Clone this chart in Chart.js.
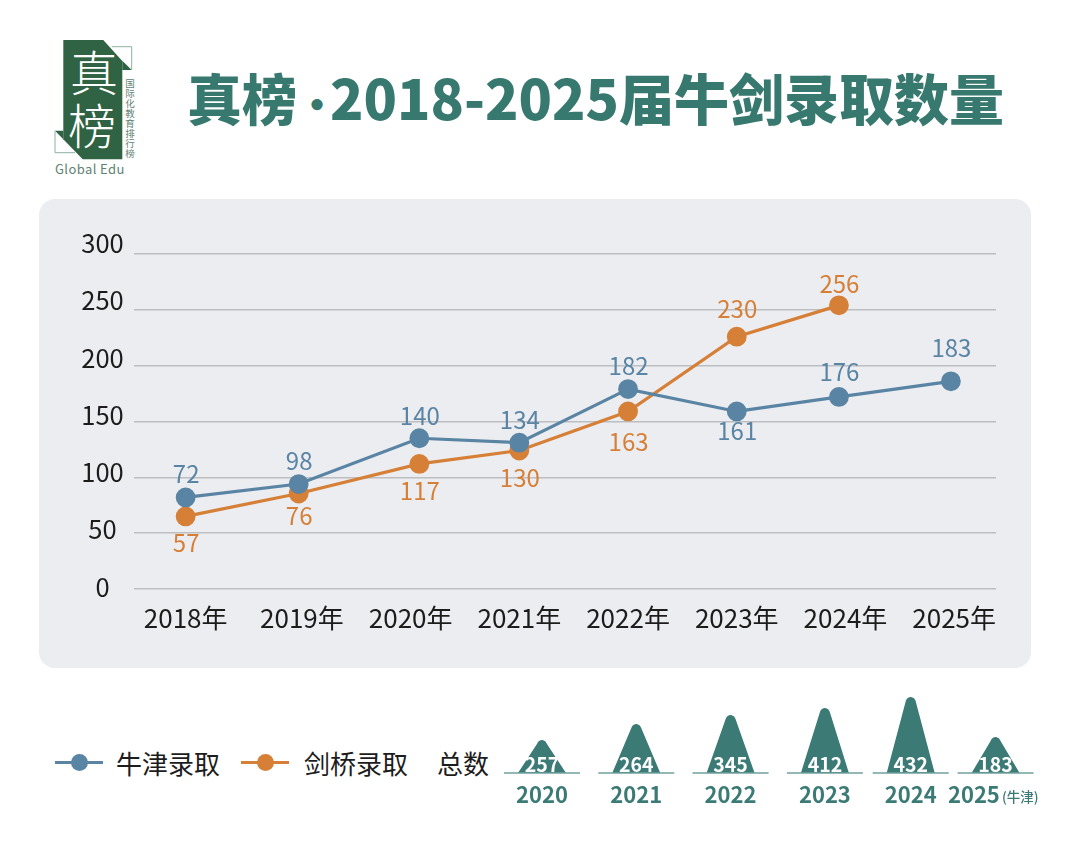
<!DOCTYPE html>
<html lang="zh-CN">
<head>
<meta charset="utf-8">
<title>真榜·2018-2025届牛剑录取数量</title>
<script src="https://cdn.jsdelivr.net/npm/chart.js@4/dist/chart.umd.min.js"></script>
<style>
    html, body { margin: 0; padding: 0; background: #fff; }
    body { position: relative; width: 1080px; height: 849px; overflow: hidden; font-family: "Noto Sans CJK SC", "Noto Sans", sans-serif; color: #1c1c1c; }
    #logo { position: absolute; left: 0; top: 0; }
    #title { position: absolute; left: 187px; top: 55px; font-size: 55px; line-height: 82px; font-weight: 900; color: #37786f; white-space: nowrap; }
    #title span { display: inline-block; width: 33px; text-align: center; font-size: 40px; line-height: 1; overflow: visible; }
    #panel { position: absolute; left: 39px; top: 199px; width: 992px; height: 469px; background: #ecedf1; border-radius: 16px; }
    #lineChart { position: absolute; left: 39px; top: 199px; }
    #totalsChart { position: absolute; left: 500px; top: 690px; }
    .legend-text { position: absolute; top: 744px; font-size: 26px; line-height: 38px; white-space: nowrap; }
    .legend-line { position: absolute; top: 761px; width: 48px; height: 3px; }
    .legend-dot { position: absolute; top: 754px; width: 17px; height: 17px; border-radius: 50%; }
</style>
</head>
<body>
<svg id="logo" width="180" height="190" xmlns="http://www.w3.org/2000/svg">
    <polygon points="63.3,40 103.3,40 122.3,61 122.3,159.3 82.7,159.3 63.3,139.3" fill="#2f6343"/>
    <polygon points="122.3,60.7 131.7,70 122.3,70" fill="#2f6343"/>
    <polygon points="55,130.7 63.3,130.7 63.3,139.3" fill="#2f6343"/>
    <polyline points="111.7,46.7 131.7,46.7 131.7,70" fill="none" stroke="#8fb0a0" stroke-width="1"/>
    <polyline points="55,130.7 55,152.7 75,152.7" fill="none" stroke="#8fb0a0" stroke-width="1"/>
    <text x="94" y="91" text-anchor="middle" font-size="48" font-weight="200" fill="#fff">真</text>
    <text x="92" y="144" text-anchor="middle" font-size="48" font-weight="200" fill="#fff">榜</text>
    <g font-size="9.5" fill="#5f8272" text-anchor="middle">
        <text x="130" y="87">国</text>
        <text x="130" y="97">际</text>
        <text x="130" y="107">化</text>
        <text x="130" y="117">教</text>
        <text x="130" y="127">育</text>
        <text x="130" y="137">排</text>
        <text x="130" y="147">行</text>
        <text x="130" y="157">榜</text>
    </g>
    <text x="55" y="174" font-size="13" letter-spacing="0.4" fill="#5f8272">Global Edu</text>
</svg>
<div id="title">真榜<span>·</span>2018-2025届牛剑录取数量</div>
<div id="panel"></div>
<canvas id="lineChart" width="992" height="469"></canvas>

<div class="legend-line" style="left:55px;background:#5a84a4"></div>
<div class="legend-dot" style="left:71px;background:#5a84a4"></div>
<div class="legend-text" style="left:116px">牛津录取</div>
<div class="legend-line" style="left:241px;background:#d67f37"></div>
<div class="legend-dot" style="left:257px;background:#d67f37"></div>
<div class="legend-text" style="left:304px">剑桥录取</div>
<div class="legend-text" style="left:437px">总数</div>

<canvas id="totalsChart" width="545" height="120"></canvas>

<script>
const yearLabels = ['2018年', '2019年', '2020年', '2021年', '2022年', '2023年', '2024年', '2025年'];
// the 2018 label sits a little left of its slot in the picture
const yearTicks = [2017.93, 2019, 2020, 2021, 2022, 2023, 2024, 2025];
const yTicks = [0, 50, 100, 150, 200, 250, 300];

// where the points are actually drawn differs from the printed numbers
const oxfordX = [2017.93, 2018.97, 2020.08, 2021.0, 2022, 2023, 2023.94, 2024.97];
const oxfordPlotted = [82, 94, 135, 131, 179, 159, 172, 186];
const oxfordPrinted = [72, 98, 140, 134, 182, 161, 176, 183];

const cambridgeX = [2017.93, 2018.97, 2020.08, 2021.0, 2022, 2023, 2023.94];
const cambridgePlotted = [65, 85.5, 112, 124, 159, 226, 254];
const cambridgePrinted = [57, 76, 117, 130, 163, 230, 256];

const totalYears = ['2020', '2021', '2022', '2023', '2024', '2025'];
const totalX = [2020, 2021, 2022, 2023, 2023.91, 2024.81];
const totalTickX = [2020, 2021, 2022, 2023, 2023.91, 2024.58];
const totalPrinted = [257, 264, 345, 412, 432, 183];
const totalPeaks = [33, 49, 58, 65, 76, 36];

const BLUE = '#5a84a4';
const ORANGE = '#d67f37';
const TEAL = '#3b7a75';
const FONT = '"Noto Sans CJK SC", "Noto Sans", sans-serif';

// label distance from the point, one per point
const oxfordOffsets = [-24, -23, -22, -23, -23, 19, -25, -33];
const cambridgeOffsets = [26, 22, 27, 27, 30, -28, -21];

function toPoints(xs, ys) {
    return ys.map((y, i) => ({ x: xs[i], y: y }));
}

const pointLabelsPlugin = {
    id: 'pointLabels',
    afterDatasetsDraw(chart) {
        const ctx = chart.ctx;
        ctx.save();
        ctx.font = '400 24px ' + FONT;
        ctx.textAlign = 'center';
        ctx.textBaseline = 'middle';
        chart.data.datasets.forEach((ds, d) => {
            ctx.fillStyle = ds.borderColor;
            chart.getDatasetMeta(d).data.forEach((pt, i) => {
                ctx.fillText(ds.printed[i], pt.x + 0.5, pt.y + ds.offsets[i]);
            });
        });
        ctx.restore();
    }
};

// the y labels drift upward from their grid lines in the picture, so draw them here
const yLabelsPlugin = {
    id: 'yLabels',
    afterDraw(chart) {
        const ctx = chart.ctx;
        const y = chart.scales.y;
        ctx.save();
        ctx.font = '400 25.5px ' + FONT;
        ctx.fillStyle = '#1c1c1c';
        ctx.textAlign = 'center';
        ctx.textBaseline = 'middle';
        yTicks.forEach(v => {
            ctx.fillText(v, 63.5, y.getPixelForValue(v) - (2 + v / 300 * 8.7));
        });
        ctx.restore();
    }
};

new Chart(document.getElementById('lineChart').getContext('2d'), {
    type: 'line',
    data: {
        datasets: [
            {
                label: '牛津录取',
                data: toPoints(oxfordX, oxfordPlotted),
                printed: oxfordPrinted,
                offsets: oxfordOffsets,
                borderColor: BLUE,
                backgroundColor: BLUE,
                borderWidth: 3.2,
                pointRadius: 8.3,
                tension: 0
            },
            {
                label: '剑桥录取',
                data: toPoints(cambridgeX, cambridgePlotted),
                printed: cambridgePrinted,
                offsets: cambridgeOffsets,
                borderColor: ORANGE,
                backgroundColor: ORANGE,
                borderWidth: 3.2,
                pointRadius: 8.3,
                tension: 0
            }
        ]
    },
    options: {
        responsive: false,
        animation: false,
        layout: { padding: { left: 95, right: 35, top: 55, bottom: 0 } },
        plugins: { legend: { display: false }, tooltip: { enabled: false } },
        scales: {
            x: {
                type: 'linear',
                min: 2017.455,
                max: 2025.385,
                grid: { display: false },
                border: { display: false },
                afterBuildTicks: scale => {
                    scale.ticks = yearTicks.map(v => ({ value: v }));
                },
                afterFit: scale => { scale.height = 79; },
                ticks: {
                    autoSkip: false,
                    maxRotation: 0,
                    padding: 6,
                    color: '#1c1c1c',
                    font: { size: 26, family: FONT },
                    callback: (value, index) => yearLabels[index]
                }
            },
            y: {
                min: 0,
                max: 300,
                afterFit: scale => { scale.width = 0; },
                grid: { color: '#bcbec2', lineWidth: 1.5, drawTicks: false },
                border: { display: false },
                ticks: { stepSize: 50, display: false }
            }
        }
    },
    plugins: [pointLabelsPlugin, yLabelsPlugin]
});

// bars are left invisible; each one is redrawn as a small rounded peak on its own base line
const peaksPlugin = {
    id: 'peaks',
    afterDatasetsDraw(chart) {
        const ctx = chart.ctx;
        ctx.save();
        chart.getDatasetMeta(0).data.forEach((bar, i) => {
            const x = bar.x, top = bar.y, base = bar.base;
            ctx.fillStyle = TEAL;
            ctx.beginPath();
            ctx.moveTo(x - 24, base);
            ctx.arc(x, top + 5, 5, Math.PI * 1.08, Math.PI * 1.92);
            ctx.lineTo(x + 24, base);
            ctx.closePath();
            ctx.fill();

            ctx.strokeStyle = '#6fa19c';
            ctx.lineWidth = 1.5;
            ctx.beginPath();
            ctx.moveTo(x - 38, base);
            ctx.lineTo(x + 38, base);
            ctx.stroke();

            ctx.fillStyle = '#fff';
            ctx.font = '700 19.5px ' + FONT;
            ctx.textAlign = 'center';
            ctx.textBaseline = 'middle';
            ctx.fillText(totalPrinted[i], x, base - 8);
        });
        // small note beside the last year
        ctx.fillStyle = TEAL;
        ctx.font = '500 13.5px ' + FONT;
        ctx.textAlign = 'left';
        ctx.textBaseline = 'middle';
        ctx.fillText('(牛津)', chart.scales.x.getPixelForValue(totalTickX[5]) + 28, 107);
        ctx.restore();
    }
};

new Chart(document.getElementById('totalsChart').getContext('2d'), {
    type: 'bar',
    data: {
        datasets: [{
            label: '总数',
            data: toPoints(totalX, totalPeaks),
            backgroundColor: 'rgba(0,0,0,0)',
            barThickness: 48
        }]
    },
    options: {
        responsive: false,
        animation: false,
        layout: { padding: 0 },
        plugins: { legend: { display: false }, tooltip: { enabled: false } },
        scales: {
            x: {
                type: 'linear',
                offset: false,
                min: 2019.555,
                max: 2025.334,
                grid: { display: false },
                border: { display: false },
                afterBuildTicks: scale => {
                    scale.ticks = totalTickX.map(v => ({ value: v }));
                },
                afterFit: scale => { scale.height = 37; },
                ticks: {
                    autoSkip: false,
                    maxRotation: 0,
                    padding: 0,
                    color: TEAL,
                    font: { size: 22, weight: '700', family: FONT },
                    callback: (value, index) => totalYears[index]
                }
            },
            y: { display: false, min: 0, max: 83 }
        }
    },
    plugins: [peaksPlugin]
});
</script>
</body>
</html>
